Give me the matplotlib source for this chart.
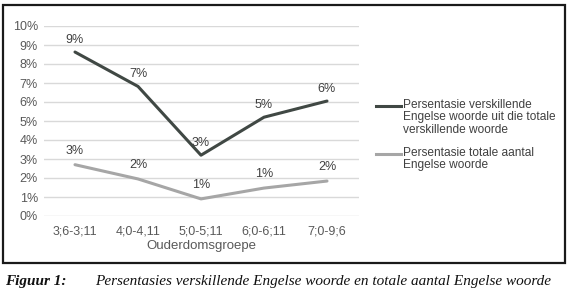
import matplotlib
matplotlib.use("Agg")
import matplotlib.pyplot as plt
from matplotlib.lines import Line2D
from matplotlib.patches import Rectangle
from matplotlib.ticker import FuncFormatter, MultipleLocator

categories = ["3;6-3;11", "4;0-4,11", "5;0-5;11", "6;0-6;11", "7;0-9;6"]
series_names = ["Persentasie verskillende\nEngelse woorde uit die totale\nverskillende woorde",
                "Persentasie totale aantal\nEngelse woorde"]
dark_values = [8.63, 6.82, 3.2, 5.2, 6.05]
light_values = [2.7, 1.95, 0.9, 1.47, 1.84]
x_label = "Ouderdomsgroepe"
caption_num = "Figuur 1:"
caption_text = "Persentasies verskillende Engelse woorde en totale aantal Engelse woorde"

W, H = 577, 295
fig = plt.figure(figsize=(W / 100, H / 100), dpi=100)
plt.rcParams["font.family"] = ["Liberation Sans", "DejaVu Sans"]

def fx(px):
    return px / W

def fy(py):
    return 1 - py / H

# axes: x 43.5..358.5, y 26(10%)..216(0%)
ax = fig.add_axes([fx(43.5), fy(216), fx(358.5) - fx(43.5), fy(26) - fy(216)])
ax.set_ylim(0, 10)
ax.set_xlim(-0.5, len(categories) - 0.5)
ax.yaxis.set_major_locator(MultipleLocator(1))
ax.yaxis.set_major_formatter(FuncFormatter(lambda v, p: f"{v:.0f}%"))
ax.set_xticks(range(len(categories)))
ax.set_xticklabels(categories)
ax.grid(axis="y", color="#d9d9d9", linewidth=1)
ax.set_axisbelow(True)
for s in ax.spines.values():
    s.set_visible(False)
ax.tick_params(length=0, labelsize=9, colors="#595959", pad=4)
ax.tick_params(axis="x", pad=7)
ax.set_xlabel(x_label, fontsize=9.5, color="#595959", labelpad=2)

dark = "#404844"
light = "#a6a6a6"
xs = range(len(categories))
ax.plot(xs, dark_values, color=dark, linewidth=2.2, solid_capstyle="round", clip_on=False)
ax.plot(xs, light_values, color=light, linewidth=2.2, solid_capstyle="round", clip_on=False)
for x, v in zip(xs, dark_values):
    ax.annotate(f"{round(v):.0f}%", (x, v), xytext=(0, 9), textcoords="offset points",
                ha="center", va="center", fontsize=9, color="#404040")
for x, v in zip(xs, light_values):
    ax.annotate(f"{round(v):.0f}%", (x, v), xytext=(0, 10), textcoords="offset points",
                ha="center", va="center", fontsize=9, color="#404040")

# legend (manual)
leg_items = [(dark, series_names[0], 106), (light, series_names[1], 154)]
for col, name, py in leg_items:
    fig.add_artist(Line2D([fx(376), fx(401)], [fy(py), fy(py)], color=col, linewidth=2.2,
                          transform=fig.transFigure))
    fig.text(fx(403), fy(py - 7), name, fontsize=8.6, color="#404040", ha="left", va="top",
             linespacing=1.05)

# frame
fig.add_artist(Rectangle((fx(3), fy(263)), fx(565) - fx(3), fy(5) - fy(263), fill=False,
                         edgecolor="#1a1a1a", linewidth=1.6, transform=fig.transFigure))

# caption
fig.text(fx(5), fy(281), caption_num, fontsize=11, style="italic", weight="bold",
         family="Liberation Serif", ha="left", va="center", color="#111111")
fig.text(fx(95), fy(281), caption_text, fontsize=11, style="italic", family="Liberation Serif",
         ha="left", va="center", color="#111111")

fig.savefig("out.png", dpi=100)
